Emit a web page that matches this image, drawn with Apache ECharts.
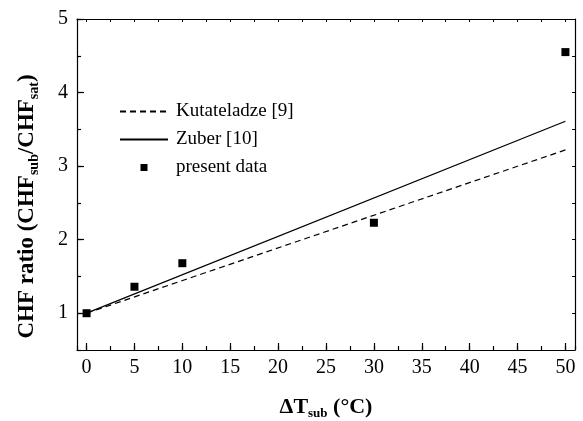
<!DOCTYPE html>
<html>
<head>
<meta charset="utf-8">
<script src="https://cdn.jsdelivr.net/npm/echarts@6/dist/echarts.min.js"></script>
<style>html,body{margin:0;padding:0;background:#fff}#c{width:583px;height:421px}</style>
</head>
<body>
<div id="c"></div>
<script>
// Data
const dT = [0, 5, 10, 30, 50];
const presentData = [1.0, 1.36, 1.68, 2.23, 4.55];
const kutX = [0, 50];
const kutY = [1.0, 3.22];
const zubX = [0, 50];
const zubY = [1.0, 3.61];

const FONT = '"Liberation Serif","Times New Roman",serif';
const X_MIN = -1, X_MAX = 51, Y_MIN = 0.5, Y_MAX = 5;

function pairs(xs, ys) { return xs.map((x, i) => [x, ys[i]]); }

const chart = echarts.init(document.getElementById('c'), null, {renderer: 'canvas'});

const axisLine = {show: true, onZero: false, lineStyle: {color: '#000', width: 1.2}};
const noLine = {show: false, onZero: false};

const xAxes = [
  { // main bottom
    type: 'value', position: 'bottom', min: X_MIN, max: X_MAX,
    minInterval: 5, maxInterval: 5,
    axisLine: axisLine,
    axisTick: {show: true, inside: true, length: 7, lineStyle: {color: '#000', width: 1.2}},
    axisLabel: {color: '#000', fontFamily: FONT, fontSize: 20, margin: 8, showMinLabel: false, showMaxLabel: false},
    splitLine: {show: false},
    name: '{b|ΔT}{s|sub}{b| (°C)}', nameLocation: 'middle', nameGap: 44,
    nameTextStyle: {
      fontFamily: FONT, fontSize: 22, fontWeight: 'bold', color: '#000',
      rich: {
        b: {fontFamily: FONT, fontSize: 22, fontWeight: 'bold', color: '#000', lineHeight: 26},
        s: {fontFamily: FONT, fontSize: 13, fontWeight: 'bold', color: '#000', lineHeight: 10, verticalAlign: 'bottom'}
      }
    }
  },
  { // minor bottom ticks
    type: 'value', position: 'bottom', min: X_MIN, max: X_MAX,
    minInterval: 2.5, maxInterval: 2.5,
    axisLine: noLine,
    axisTick: {show: true, inside: true, length: 4, lineStyle: {color: '#000', width: 1.2}},
    axisLabel: {show: false}, splitLine: {show: false}
  },
  { // top frame
    type: 'value', position: 'top', min: X_MIN, max: X_MAX,
    minInterval: 2.5, maxInterval: 2.5,
    axisLine: axisLine,
    axisTick: {show: true, inside: true, length: 3, lineStyle: {color: '#000', width: 1}},
    axisLabel: {show: false}, splitLine: {show: false}
  }
];

const yAxes = [
  { // main left
    type: 'value', position: 'left', min: Y_MIN, max: Y_MAX,
    minInterval: 1, maxInterval: 1,
    axisLine: axisLine,
    axisTick: {show: true, inside: true, length: 7, lineStyle: {color: '#000', width: 1.2}},
    axisLabel: {color: '#000', fontFamily: FONT, fontSize: 20, margin: 9, showMinLabel: false, showMaxLabel: true},
    splitLine: {show: false},
    name: '{b|CHF ratio (CHF}{s|sub}{b|/CHF}{s|sat}{b|)}', nameLocation: 'middle', nameGap: 36, nameRotate: 90,
    nameTextStyle: {
      fontFamily: FONT, fontSize: 23, fontWeight: 'bold', color: '#000',
      padding: [0, 44, 0, 0],
      rich: {
        b: {fontFamily: FONT, fontSize: 23, fontWeight: 'bold', color: '#000', lineHeight: 28},
        s: {fontFamily: FONT, fontSize: 14, fontWeight: 'bold', color: '#000', lineHeight: 11, verticalAlign: 'bottom'}
      }
    }
  },
  { // minor left ticks
    type: 'value', position: 'left', min: Y_MIN, max: Y_MAX, interval: 0.5,
    axisLine: noLine,
    axisTick: {show: true, inside: true, length: 4, lineStyle: {color: '#000', width: 1.2}},
    axisLabel: {show: false}, splitLine: {show: false}
  },
  { // right frame
    type: 'value', position: 'right', min: Y_MIN, max: Y_MAX, interval: 0.5,
    axisLine: axisLine,
    axisTick: {show: true, inside: true, length: 3, lineStyle: {color: '#000', width: 1}},
    axisLabel: {show: false}, splitLine: {show: false}
  }
];

const option = {
  animation: false,
  backgroundColor: '#fff',
  grid: {left: 77, right: 8, top: 19, bottom: 71, containLabel: false, outerBoundsMode: 'none'},
  xAxis: xAxes,
  yAxis: yAxes,
  legend: {
    orient: 'vertical', left: 119, top: 102, padding: 0,
    itemWidth: 48, itemHeight: 14, itemGap: 9,
    textStyle: {fontFamily: FONT, fontSize: 19, color: '#000', padding: [0, 0, 0, 3]},
    data: [
      {name: 'Kutateladze [9]', itemStyle: {opacity: 0}},
      {name: 'Zuber [10]', itemStyle: {opacity: 0}},
      {name: 'present data', icon: 'path://M0,0M20,20M5,5L15,5L15,15L5,15Z', itemStyle: {color: '#000', opacity: 1}}
    ]
  },
  series: [
    {
      name: 'Kutateladze [9]', type: 'line', xAxisIndex: 0, yAxisIndex: 0,
      data: pairs(kutX, kutY), symbol: 'none', silent: true,
      lineStyle: {color: '#000', width: 1.2, type: [6, 4]}, itemStyle: {color: '#000'}
    },
    {
      name: 'Zuber [10]', type: 'line', xAxisIndex: 0, yAxisIndex: 0,
      data: pairs(zubX, zubY), symbol: 'none', silent: true,
      lineStyle: {color: '#000', width: 1.3, type: 'solid'}, itemStyle: {color: '#000'}
    },
    {
      name: 'present data', type: 'scatter', xAxisIndex: 0, yAxisIndex: 0,
      data: pairs(dT, presentData), symbol: 'rect', symbolSize: 8,
      itemStyle: {color: '#000', opacity: 1}
    }
  ]
};
chart.setOption(option);
</script>
</body>
</html>
